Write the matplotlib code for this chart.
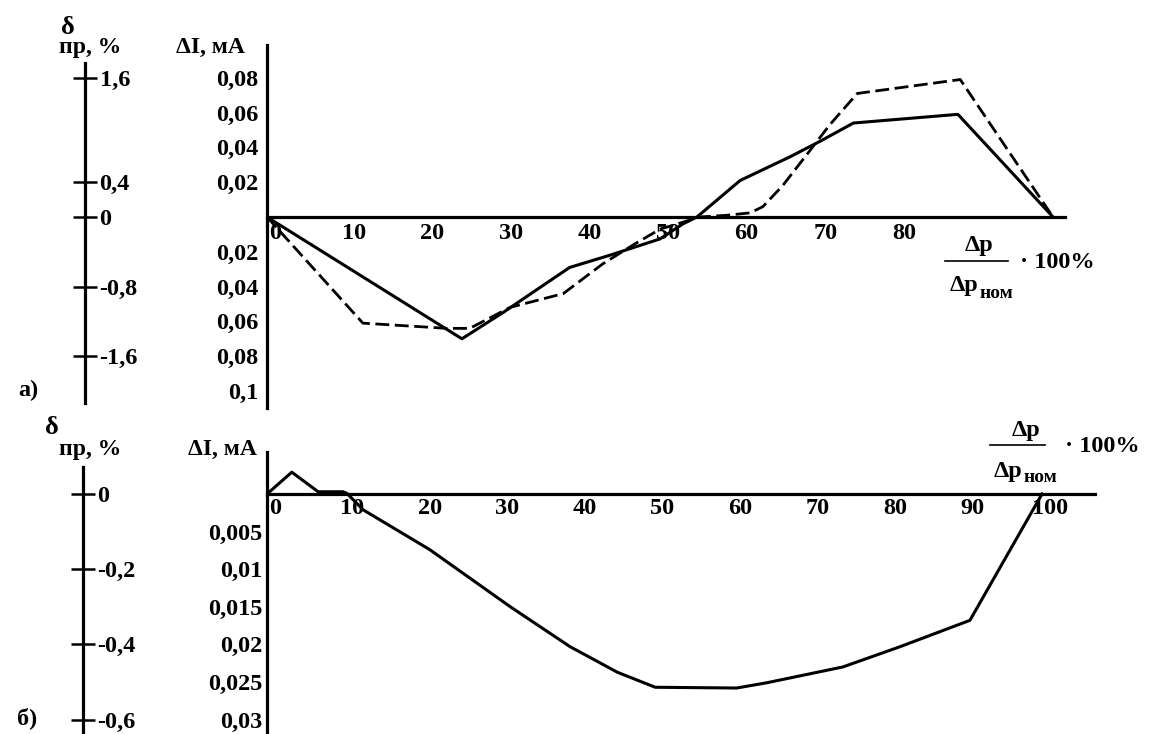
import matplotlib
matplotlib.use('Agg')
import matplotlib.pyplot as plt
import matplotlib.transforms as mtransforms
from matplotlib.lines import Line2D

plt.rcParams['font.family'] = ['Liberation Serif', 'DejaVu Serif']
plt.rcParams['font.weight'] = 'bold'

# --- panel a) : delta I vs dp/dp_nom, two curves
a_solid_x = [0, 24.8, 30.0, 38.5, 43.6, 50.0, 52.9, 54.7, 60.2, 66.5, 70.4, 74.6, 87.9, 100]
a_solid_y = [0, -0.070, -0.055, -0.029, -0.022, -0.0126, -0.004, 0, 0.021, 0.0345, 0.0436, 0.054, 0.059, 0]
a_dash_x = [0, 12.2, 22.9, 25.8, 30.9, 37.7, 42.7, 46.6, 50.0, 52.9, 55.0, 58.5, 61.5, 63.1,
            65.6, 68.7, 71.6, 75.1, 88.2, 100]
a_dash_y = [0, -0.061, -0.064, -0.064, -0.052, -0.044, -0.027, -0.016, -0.007, -0.003, 0,
            0.001, 0.0024, 0.006, 0.018, 0.036, 0.053, 0.071, 0.079, 0]
a_xticks = [0, 10, 20, 30, 40, 50, 60, 70, 80]
a_yticks = [0.08, 0.06, 0.04, 0.02, -0.02, -0.04, -0.06, -0.08, -0.1]
a_ylabels = ['0,08', '0,06', '0,04', '0,02', '0,02', '0,04', '0,06', '0,08', '0,1']
a_dticks = [1.6, 0.4, 0, -0.8, -1.6]
a_dlabels = ['1,6', '0,4', '0', '-0,8', '-1,6']

# --- panel б) : one curve
b_x = [0, 3.2, 6.6, 9.8, 10.3, 12.4, 21.0, 31.4, 39.1, 45.2, 50.1, 60.6, 64.5, 74.3, 81.7, 90.7, 100]
b_y = [0, 0.0029, 0.0003, 0.0003, 0.0001, -0.0021, -0.0074, -0.0150, -0.0203, -0.0237, -0.0257,
       -0.0258, -0.0251, -0.0230, -0.0203, -0.0168, 0]
b_xticks = [0, 10, 20, 30, 40, 50, 60, 70, 80, 90, 100]
b_yticks = [-0.005, -0.01, -0.015, -0.02, -0.025, -0.03]
b_ylabels = ['0,005', '0,01', '0,015', '0,02', '0,025', '0,03']
b_dticks = [0, -0.2, -0.4, -0.6]
b_dlabels = ['0', '-0,2', '-0,4', '-0,6']

W, H = 1149, 734
FS = 17.5
fig = plt.figure(figsize=(W / 100, H / 100), dpi=100)


def box(x0, y0, x1, y1):
    # pixel box -> figure fractions
    return [x0 / W, 1 - y1 / H, (x1 - x0) / W, (y1 - y0) / H]


def txt(x, y, s, size=FS, ha='center'):
    fig.text(x / W, 1 - y / H, s, fontsize=size, ha=ha, va='center', fontweight='bold')


def panel(rect, xlim, ylim, xticks, yticks, ylabels, dticks, dlabels, dloc, dbounds, ypad, xpad):
    ax = fig.add_axes(rect)
    ax.set_xlim(*xlim)
    ax.set_ylim(*ylim)
    ax.patch.set_visible(False)
    for s in ['top', 'right']:
        ax.spines[s].set_visible(False)
    ax.spines['bottom'].set_position(('data', 0))
    for s in ['left', 'bottom']:
        ax.spines[s].set_linewidth(2.3)
    ax.set_xticks(xticks)
    ax.set_xticklabels([str(t) for t in xticks])
    ax.set_yticks(yticks)
    ax.set_yticklabels(ylabels)
    ax.tick_params(axis='x', length=0, pad=xpad, labelsize=FS)
    ax.tick_params(axis='y', length=0, pad=ypad, labelsize=FS)
    shift = mtransforms.ScaledTranslation(8 / 100, 0, fig.dpi_scale_trans)
    for lab in ax.get_xticklabels():
        lab.set_transform(lab.get_transform() + shift)

    # percent scale drawn as a separate vertical line on the left
    sec = ax.secondary_yaxis(dloc, functions=(lambda v: v * 20, lambda v: v / 20))
    sec.set_alignment('right')
    sec.set_ticks(dticks, labels=dlabels)
    sec.tick_params(direction='inout', length=17, width=1.8, pad=2, labelsize=FS)
    sec.spines['right'].set_linewidth(2.3)
    sec.spines['right'].set_bounds(*dbounds)
    return ax


ax_a = panel(box(267, 45, 1065, 408), (0, 798 / 7.86), (-191 / 1740, 172 / 1740),
             a_xticks, a_yticks, a_ylabels, a_dticks, a_dlabels,
             (85 - 267) / 798, (-2.14, 1.77), 6, 4)
ax_a.plot(a_solid_x, a_solid_y, color='black', lw=2.2)
ax_a.plot(a_dash_x, a_dash_y, color='black', lw=2.0, linestyle=(0, (5, 2)))

ax_b = panel(box(267, 452, 1095, 734), (0, 828 / 7.75), (-240 / 7520, 42 / 7520),
             b_xticks, b_yticks, b_ylabels, b_dticks, b_dlabels,
             (83 - 267) / 828, (-0.64, 0.072), 3, 3)
ax_b.plot(b_x, b_y, color='black', lw=2.2)

# axis captions, panel a)
txt(68, 28, 'δ', size=19)
txt(59, 48, 'пр, %', size=17, ha='left')
txt(210, 47, 'ΔI, мА', size=17)
txt(28, 390, 'а)')
txt(979, 246, 'Δp')
fig.add_artist(Line2D([945 / W, 1008 / W], [1 - 261 / H] * 2, color='black', lw=1.2))
txt(978, 286, 'Δp', ha='right')
txt(980, 294, 'ном', size=14, ha='left')
txt(1020, 263, '· 100%', ha='left')

# axis captions, panel б)
txt(52, 428, 'δ', size=19)
txt(59, 449, 'пр, %', size=17, ha='left')
txt(222, 449, 'ΔI, мА', size=17)
txt(27, 718, 'б)')
txt(1026, 431, 'Δp')
fig.add_artist(Line2D([990 / W, 1045 / W], [1 - 445 / H] * 2, color='black', lw=1.2))
txt(1022, 471, 'Δp', ha='right')
txt(1024, 478, 'ном', size=14, ha='left')
txt(1065, 446, '· 100%', ha='left')

fig.savefig('out.png', dpi=100)
